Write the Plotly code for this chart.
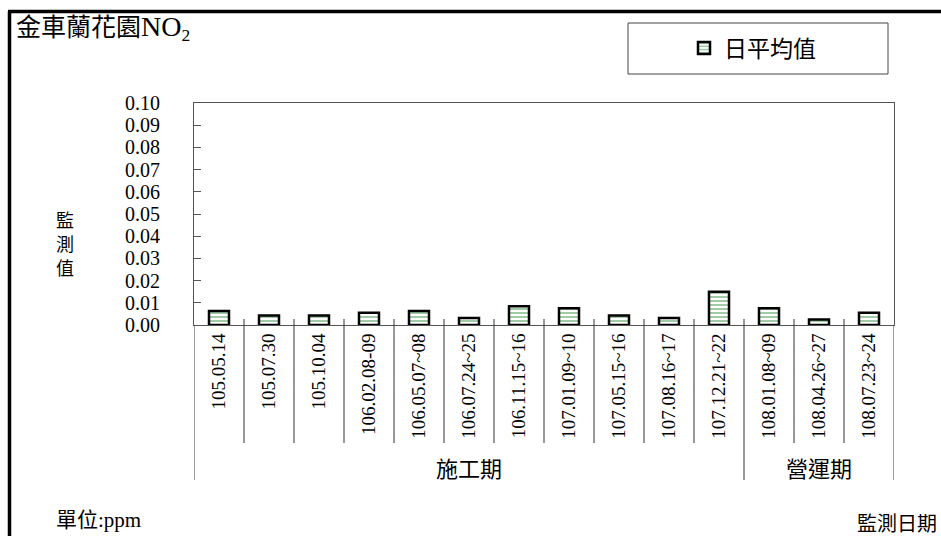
import plotly.graph_objects as go

dates = ["105.05.14", "105.07.30", "105.10.04", "106.02.08-09", "106.05.07~08",
         "106.07.24~25", "106.11.15~16", "107.01.09~10", "107.05.15~16",
         "107.08.16~17", "107.12.21~22", "108.01.08~09", "108.04.26~27", "108.07.23~24"]
values = [0.0063, 0.0043, 0.0043, 0.0055, 0.0063, 0.0032, 0.0085, 0.0075, 0.0043,
          0.0032, 0.0150, 0.0075, 0.0025, 0.0055]
phases = ["施工期"] * 11 + ["營運期"] * 3
y_ticks = [0.00, 0.01, 0.02, 0.03, 0.04, 0.05, 0.06, 0.07, 0.08, 0.09, 0.10]
y_label_chars = ["監", "測", "值"]

FIG_W, FIG_H = 941, 536
L, R, T, B = 194, 894, 103, 325
W, H = R - L, B - T
SERIF = "Liberation Serif, Noto Sans CJK TC, serif"
CJK = "Noto Sans CJK TC, sans-serif"


def px(x):
    return (x - L) / W


def py(y):
    return (B - y) / H


fig = go.Figure()
fig.add_trace(go.Bar(
    x=dates, y=values, name="日平均值", width=0.4,
    marker=dict(color="white", line=dict(color="black", width=2.5),
                pattern=dict(shape="-", fgcolor="#2a8f35", bgcolor="white",
                             size=4, solidity=0.45)),
))

shapes = []
n = len(dates)
for i in range(n - 1):
    y1 = py(480) if phases[i] != phases[i + 1] else py(443)
    shapes.append(dict(type="line", xref="x", yref="paper", x0=i + 0.5, x1=i + 0.5,
                       y0=py(319), y1=y1, line=dict(color="#333333", width=1)))
for xv in (-0.5, n - 0.5):
    shapes.append(dict(type="line", xref="x", yref="paper", x0=xv, x1=xv,
                       y0=0, y1=py(480), line=dict(color="#333333", width=1)))
shapes.append(dict(type="rect", xref="paper", yref="paper", x0=px(628), x1=px(888),
                   y0=py(23), y1=py(74), line=dict(color="#444444", width=1),
                   fillcolor="white", layer="below"))
shapes.append(dict(type="line", xref="paper", yref="paper", x0=px(8), x1=px(941),
                   y0=py(11.5), y1=py(11.5), line=dict(color="black", width=3.5)))
shapes.append(dict(type="line", xref="paper", yref="paper", x0=px(9.5), x1=px(9.5),
                   y0=py(11.5), y1=py(536), line=dict(color="black", width=3.5)))

annotations = []
groups = []
for i, p in enumerate(phases):
    if groups and groups[-1][0] == p:
        groups[-1][2] = i
    else:
        groups.append([p, i, i])
for p, a, b in groups:
    annotations.append(dict(text=p, xref="x", yref="paper", x=(a + b) / 2, y=py(467),
                            xanchor="center", yanchor="middle", showarrow=False,
                            font=dict(family=CJK, size=22, color="black")))

for ch, yc in zip(y_label_chars, [219, 243, 267]):
    annotations.append(dict(text=ch, xref="paper", yref="paper", x=px(65), y=py(yc),
                            xanchor="center", yanchor="middle", showarrow=False,
                            font=dict(family=CJK, size=18, color="black")))

annotations += [
    dict(text="金車蘭花園<span style='font-size:28px'>NO</span><sub>2</sub>",
         xref="paper", yref="paper", x=px(14), y=py(28),
         xanchor="left", yanchor="middle", showarrow=False,
         font=dict(family=SERIF, size=25, color="black")),
    dict(text="單位:ppm", xref="paper", yref="paper", x=px(54), y=py(520),
         xanchor="left", yanchor="middle", showarrow=False,
         font=dict(family=SERIF, size=21, color="black")),
    dict(text="監測日期", xref="paper", yref="paper", x=px(939), y=py(522),
         xanchor="right", yanchor="middle", showarrow=False,
         font=dict(family=CJK, size=20, color="black")),
]

fig.update_layout(
    width=FIG_W, height=FIG_H,
    margin=dict(l=L, r=FIG_W - R, t=T, b=FIG_H - B, pad=0),
    paper_bgcolor="white", plot_bgcolor="white",
    showlegend=True,
    legend=dict(x=px(684), y=py(48), xanchor="left", yanchor="middle",
                bgcolor="rgba(0,0,0,0)", borderwidth=0,
                font=dict(family=CJK, size=23, color="black")),
    shapes=shapes, annotations=annotations,
    xaxis=dict(type="category", range=[-0.5, n - 0.5], tickangle=-90,
               showline=True, linecolor="#555555", linewidth=1, mirror=True,
               ticks="", showgrid=False, automargin=False, ticklabelstandoff=0,
               tickfont=dict(family=SERIF, size=19, color="black")),
    yaxis=dict(range=[0, 0.10], tickvals=y_ticks, ticktext=[f"{v:.2f}" for v in y_ticks],
               showline=True, linecolor="#555555", linewidth=1, mirror=True,
               ticks="inside", ticklen=7, tickcolor="#555555", showgrid=False,
               zeroline=False, automargin=False, ticklabelstandoff=29,
               tickfont=dict(family=SERIF, size=20, color="black")),
)

fig.write_html("out.html", config={"displayModeBar": False},
               post_script="document.body.style.margin='0';document.body.style.overflow='hidden';")
